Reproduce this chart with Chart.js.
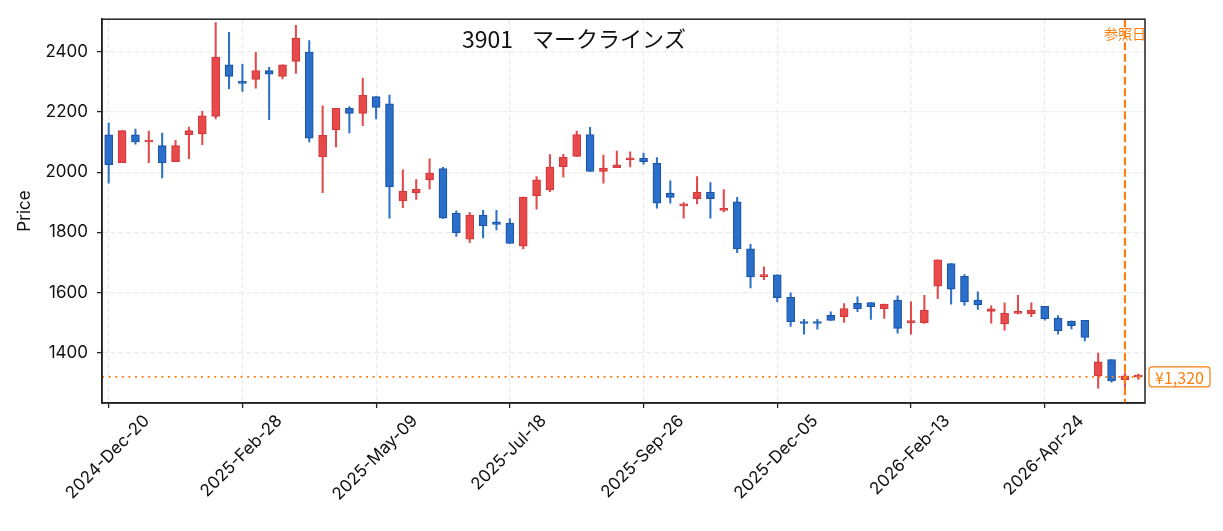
<!DOCTYPE html>
<html lang="ja">
<head>
<meta charset="UTF-8"/>
<title>3901 マークラインズ</title>
<script src="https://cdn.jsdelivr.net/npm/chart.js"></script>
<style>
  html, body { margin: 0; padding: 0; background: #fff; }
  #wrap { width: 1223px; height: 531px; }
</style>
</head>
<body>
<div id="wrap"><canvas id="candles" width="1223" height="531"></canvas></div>
<script>
  // weekly candles, first one is the week of 2024-12-20
  const firstWeek = [2024, 11, 20];
  const opens  = [2124, 2031, 2124, 2100, 2088, 2035, 2124, 2127, 2185, 2356,
                  2298, 2308, 2337, 2318, 2368, 2399, 2051, 2140, 2212, 2195,
                  2251, 2227, 1904, 1931, 1974, 2012, 1864, 1777, 1857, 1835,
                  1830, 1754, 1922, 1941, 2018, 2052, 2125, 2002, 2015, 2041,
                  2046, 2029, 1930, 1888, 1912, 1933, 1873, 1901, 1745, 1653,
                  1659, 1584, 1501, 1500, 1524, 1520, 1564, 1567, 1546, 1575,
                  1500, 1500, 1621, 1696, 1654, 1575, 1537, 1496, 1531, 1530,
                  1554, 1515, 1505, 1508, 1323, 1377, 1310, 1319];
  const highs  = [2163, 2138, 2143, 2136, 2130, 2106, 2150, 2202, 2497, 2464,
                  2358, 2398, 2348, 2356, 2488, 2437, 2220, 2212, 2218, 2312,
                  2251, 2256, 2008, 1975, 2044, 2016, 1871, 1866, 1873, 1873,
                  1846, 1917, 1985, 2058, 2059, 2136, 2149, 2057, 2070, 2067,
                  2063, 2048, 1971, 1899, 1985, 1965, 1942, 1916, 1760, 1685,
                  1659, 1599, 1511, 1511, 1536, 1563, 1586, 1567, 1562, 1589,
                  1569, 1591, 1709, 1696, 1660, 1602, 1556, 1566, 1591, 1566,
                  1554, 1523, 1505, 1508, 1399, 1377, 1333, 1329];
  const lows   = [1963, 2031, 2093, 2031, 1981, 2035, 2045, 2091, 2177, 2276,
                  2268, 2279, 2174, 2310, 2328, 2100, 1932, 2084, 2130, 2154,
                  2177, 1847, 1882, 1909, 1943, 1846, 1786, 1766, 1781, 1808,
                  1763, 1745, 1877, 1935, 1983, 2052, 2002, 1963, 2015, 2017,
                  2026, 1880, 1897, 1847, 1894, 1847, 1868, 1732, 1615, 1643,
                  1569, 1487, 1462, 1478, 1507, 1501, 1536, 1511, 1514, 1465,
                  1462, 1497, 1580, 1561, 1557, 1544, 1498, 1475, 1529, 1520,
                  1508, 1462, 1479, 1439, 1282, 1302, 1285, 1311];
  const closes = [2025, 2138, 2100, 2104, 2031, 2088, 2138, 2187, 2382, 2318,
                  2295, 2337, 2325, 2356, 2445, 2113, 2122, 2212, 2195, 2255,
                  2215, 1951, 1937, 1944, 1997, 1847, 1799, 1857, 1822, 1826,
                  1763, 1917, 1974, 2017, 2050, 2125, 2002, 2013, 2024, 2047,
                  2035, 1897, 1916, 1891, 1933, 1912, 1880, 1745, 1652, 1659,
                  1583, 1503, 1497, 1497, 1507, 1547, 1546, 1553, 1562, 1481,
                  1505, 1542, 1709, 1611, 1569, 1559, 1546, 1531, 1533, 1541,
                  1513, 1473, 1490, 1451, 1370, 1306, 1323, 1326];
  const yTicks = [1400, 1600, 1800, 2000, 2200, 2400];
  const labelEvery = 10;          // one date label every 10 weeks
  const refIndex = 76;            // 参照日
  const refPrice = 1320;

  const months = ["Jan","Feb","Mar","Apr","May","Jun","Jul","Aug","Sep","Oct","Nov","Dec"];
  const weeks = opens.map((_, i) => {
    const d = new Date(Date.UTC(firstWeek[0], firstWeek[1], firstWeek[2] + 7 * i));
    return d.getUTCFullYear() + "-" + months[d.getUTCMonth()] + "-" + String(d.getUTCDate()).padStart(2, "0");
  });

  const upFill = "#e8494a", upEdge = "#d23a3b";
  const downFill = "#2a6fc9", downEdge = "#1d56a6";
  const orange = "#ff7f0e";
  const tickFont = "Inter, 'Noto Sans CJK JP', sans-serif";
  const cjkFont = "'Noto Sans CJK JP', sans-serif";
  const isUp = opens.map((o, i) => closes[i] >= o);

  const overlay = {
    id: "overlay",
    afterDatasetsDraw(chart) {
      const { ctx, chartArea: a, scales: { x, y } } = chart;
      ctx.save();
      // reference price (dotted)
      const py = y.getPixelForValue(refPrice);
      ctx.strokeStyle = orange;
      ctx.lineWidth = 1.8;
      ctx.setLineDash([2, 4.6]);
      ctx.beginPath(); ctx.moveTo(a.left, py); ctx.lineTo(a.right, py); ctx.stroke();
      // reference date (dashed)
      const rx = x.getPixelForValue(refIndex);
      ctx.lineWidth = 2.2;
      ctx.setLineDash([8, 3.5]);
      ctx.beginPath(); ctx.moveTo(rx, a.top); ctx.lineTo(rx, a.bottom); ctx.stroke();
      ctx.setLineDash([]);
      // frame
      ctx.strokeStyle = "#222";
      ctx.lineWidth = 1.5;
      ctx.strokeRect(a.left, a.top, a.right - a.left, a.bottom - a.top);

      ctx.textAlign = "center";
      ctx.textBaseline = "middle";
      ctx.fillStyle = orange;
      ctx.font = "14px " + cjkFont;
      ctx.fillText("参照日", rx, 34);
      // price tag
      const bx = a.right + 4, bw = 61, bh = 20;
      ctx.beginPath();
      ctx.roundRect(bx, py - bh / 2, bw, bh, 3);
      ctx.fillStyle = "#fff"; ctx.fill();
      ctx.lineWidth = 1.2; ctx.strokeStyle = orange; ctx.stroke();
      ctx.fillStyle = orange;
      ctx.font = "16px " + cjkFont;
      ctx.fillText("¥" + refPrice.toLocaleString("en-US"), bx + bw / 2, py + 1);

      // title
      ctx.fillStyle = "#111";
      ctx.textAlign = "left";
      ctx.font = "23px " + cjkFont;
      ctx.fillText("3901", 462, 39);
      ctx.font = "22px " + cjkFont;
      ctx.fillText("マークラインズ", 532, 39);

      // y axis title
      ctx.save();
      ctx.translate(24.5, 211);
      ctx.rotate(-Math.PI / 2);
      ctx.textAlign = "center";
      ctx.font = "17px " + tickFont;
      ctx.fillText("Price", 0, 0);
      ctx.restore();

      // x date labels, rotated 45deg, box centred under the tick
      ctx.font = "17px " + tickFont;
      ctx.textAlign = "center";
      const h = 20, top = 411;
      for (let i = 0; i < weeks.length; i += labelEvery) {
        const L = ctx.measureText(weeks[i]).width;
        const cx = x.getPixelForValue(i) - 1;
        const cy = top + (L + h) / (2 * Math.SQRT2);
        ctx.save();
        ctx.translate(cx, cy);
        ctx.rotate(-Math.PI / 4);
        ctx.fillText(weeks[i], 0, 0);
        ctx.restore();
      }
      ctx.restore();
    }
  };

  new Chart(document.getElementById("candles").getContext("2d"), {
    type: "bar",
    data: {
      labels: weeks,
      datasets: [
        {
          label: "body",
          data: opens.map((o, i) => [o, closes[i]]),
          backgroundColor: isUp.map(u => u ? upFill : downFill),
          borderColor: isUp.map(u => u ? upEdge : downEdge),
          borderWidth: 1.2,
          borderSkipped: false,
          barThickness: 8,
          minBarLength: 2,
          grouped: false
        },
        {
          label: "wick",
          data: lows.map((l, i) => [l, highs[i]]),
          backgroundColor: isUp.map(u => u ? "#e24a4b" : "#2d72c8"),
          borderWidth: 0,
          barThickness: 1.4,
          grouped: false
        }
      ]
    },
    options: {
      responsive: false,
      animation: false,
      layout: { padding: { top: 15, right: 78, left: 0, bottom: 0 } },
      plugins: { legend: { display: false }, tooltip: { enabled: false } },
      scales: {
        x: {
          offset: true,
          grid: { offset: false, color: "#ebebeb", lineWidth: 1.2, tickColor: "#222", tickLength: 5, tickWidth: 1.3 },
          border: { color: "#222", width: 1.5, dash: [5, 3] },
          ticks: {
            autoSkip: false, maxRotation: 45, minRotation: 45,
            color: "rgba(0,0,0,0)", padding: 2,
            font: { family: tickFont, size: 17 },
            callback: (v, i) => (i % labelEvery === 0 ? weeks[i] : null)
          },
          afterFit: s => { s.height = 128; }
        },
        y: {
          min: 1233, max: 2508,
          afterBuildTicks: s => { s.ticks = yTicks.map(v => ({ value: v })); },
          grid: { color: "#ebebeb", lineWidth: 1.2, tickColor: "#222", tickLength: 5, tickWidth: 1.3 },
          border: { color: "#222", width: 1.5, dash: [5, 3] },
          ticks: {
            color: "#111", padding: 9,
            font: { family: tickFont, size: 17 },
            callback: v => String(v)
          },
          afterFit: s => { s.width = 102; }
        }
      }
    },
    plugins: [overlay]
  });
</script>
</body>
</html>
